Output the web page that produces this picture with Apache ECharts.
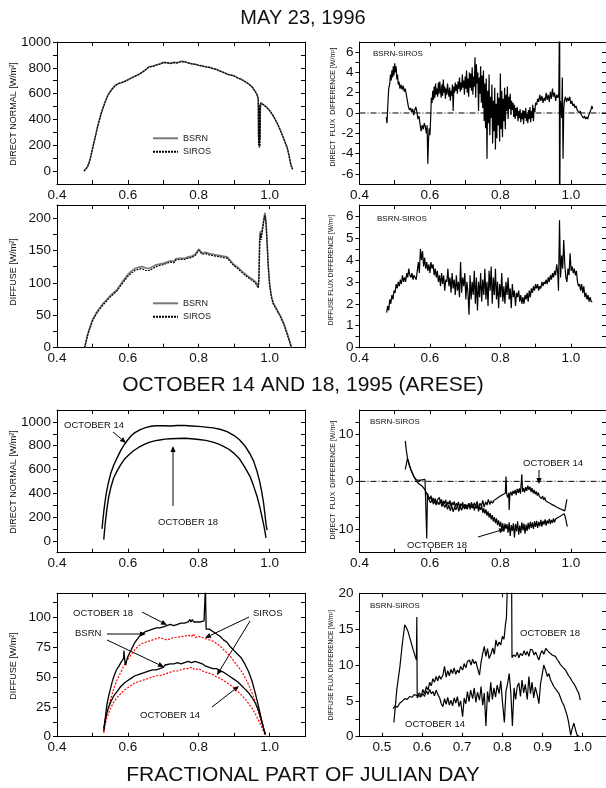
<!DOCTYPE html>
<html><head><meta charset="utf-8">
<script src="https://cdn.jsdelivr.net/npm/echarts@6/dist/echarts.min.js"></script>
<style>html,body{margin:0;padding:0;background:#fff}#c{width:606px;height:788px}</style>
</head><body><div id="c"></div>
<script>
// ---------- tick labels ----------
const xLabelsMain = [0.4, 0.6, 0.8, 1.0];
const xTicksMain = [0.4, 0.5, 0.6, 0.7, 0.8, 0.9, 1.0];
const xLabelsOctDiff = [0.5, 0.6, 0.7, 0.8, 0.9, 1.0];
const xTicksOctDiff = [0.5, 0.6, 0.7, 0.8, 0.9, 1.0];
const yLabelsDirect = [0, 200, 400, 600, 800, 1000];
const yTicksDirect = [0, 100, 200, 300, 400, 500, 600, 700, 800, 900, 1000];
const yLabelsMayDirDiff = [-6, -4, -2, 0, 2, 4, 6];
const yTicksMayDirDiff = [-6, -5, -4, -3, -2, -1, 0, 1, 2, 3, 4, 5, 6];
const yLabelsMayDiffuse = [0, 50, 100, 150, 200];
const yTicksMayDiffuse = [0, 25, 50, 75, 100, 125, 150, 175, 200];
const yLabelsMayDifDiff = [0, 1, 2, 3, 4, 5, 6];
const yTicksMayDifDiff = [0, 0.5, 1, 1.5, 2, 2.5, 3, 3.5, 4, 4.5, 5, 5.5, 6];
const yLabelsOctDirDiff = [-10, 0, 10];
const yTicksOctDirDiff = [-12.5, -10, -7.5, -5, -2.5, 0, 2.5, 5, 7.5, 10, 12.5];
const yLabelsOctDiffuse = [0, 25, 50, 75, 100];
const yTicksOctDiffuse = [0, 12.5, 25, 37.5, 50, 62.5, 75, 87.5, 100, 112.5];
const yLabelsOctDifDiff = [0, 5, 10, 15, 20];
const yTicksOctDifDiff = [0, 2.5, 5, 7.5, 10, 12.5, 15, 17.5];
const zeroLine = [[0.4, 0], [1.1, 0]];

// ---------- May 23, 1996 ----------
const mayDirectBSRN = [[0.476,0],[0.480,10],[0.485,30],[0.490,60],[0.495,110],[0.500,170],[0.505,230],[0.510,290],[0.515,350],[0.520,400],[0.525,450],[0.530,490],[0.535,530],[0.540,565],[0.545,595],[0.550,615],[0.555,635],[0.560,650],[0.565,665],[0.570,675],[0.575,680],[0.580,678],[0.585,688],[0.590,695],[0.595,700],[0.600,708],[0.610,722],[0.620,735],[0.630,748],[0.640,765],[0.650,785],[0.655,800],[0.660,808],[0.670,812],[0.680,822],[0.690,830],[0.700,842],[0.705,835],[0.710,840],[0.720,835],[0.730,842],[0.740,840],[0.750,850],[0.755,845],[0.760,848],[0.770,840],[0.780,832],[0.790,828],[0.800,820],[0.810,815],[0.820,808],[0.830,805],[0.840,795],[0.850,788],[0.860,775],[0.870,765],[0.880,752],[0.890,745],[0.900,738],[0.910,722],[0.920,712],[0.930,695],[0.940,678],[0.950,655],[0.955,640],[0.960,615],[0.965,590],[0.968,560],[0.969,260],[0.970,520],[0.971,230],[0.972,500],[0.973,250],[0.974,480],[0.975,530],[0.980,525],[0.990,500],[1.000,470],[1.010,430],[1.020,380],[1.030,320],[1.040,250],[1.050,180],[1.055,120],[1.060,50],[1.065,15]];
const mayDirectSIROS = [[0.476,0],[0.480,9],[0.485,29],[0.490,58],[0.495,108],[0.500,168],[0.505,228],[0.510,288],[0.515,348],[0.520,398],[0.525,448],[0.530,488],[0.535,528],[0.540,563],[0.545,593],[0.550,613],[0.555,634],[0.560,649],[0.565,664],[0.570,674],[0.575,679],[0.580,677],[0.585,687],[0.590,694],[0.595,699],[0.600,707],[0.610,721],[0.620,734],[0.630,747],[0.640,764],[0.650,784],[0.655,799],[0.660,807],[0.670,811],[0.680,821],[0.690,829],[0.700,840],[0.705,834],[0.710,839],[0.720,833],[0.730,840],[0.740,838],[0.750,848],[0.755,843],[0.760,846],[0.770,838],[0.780,831],[0.790,827],[0.800,819],[0.810,814],[0.820,807],[0.830,804],[0.840,794],[0.850,787],[0.860,774],[0.870,764],[0.880,751],[0.890,744],[0.900,737],[0.910,721],[0.920,711],[0.930,694],[0.940,677],[0.950,654],[0.955,639],[0.960,614],[0.965,589],[0.968,555],[0.969,200],[0.970,515],[0.971,180],[0.972,495],[0.973,190],[0.974,478],[0.975,528],[0.980,524],[0.990,499],[1.000,469],[1.010,429],[1.020,379],[1.030,319],[1.040,249],[1.050,179],[1.055,119],[1.060,49],[1.065,14]];

const mayDirectDiff = [[0.476,-0.4],[0.478,-1.0],[0.480,0.5],[0.483,2.4],[0.486,2.9],[0.488,3.8],[0.490,3.2],[0.492,4.2],[0.494,3.5],[0.496,4.6],[0.498,3.7],[0.500,4.9],[0.502,4.0],[0.504,4.6],[0.506,3.3],[0.508,3.8],[0.510,2.8],[0.512,3.1],[0.515,2.4],[0.518,2.8],[0.521,2.3],[0.524,2.7],[0.527,2.1],[0.530,2.4],[0.533,1.8],[0.536,1.2],[0.539,0.6],[0.542,0.3],[0.545,0.5],[0.548,0.1],[0.551,0.4],[0.554,-0.2],[0.557,0.3],[0.560,0.6],[0.563,0.1],[0.566,-0.6],[0.569,-0.3],[0.572,-1.1],[0.575,-1.8],[0.578,-1.2],[0.581,-1.6],[0.584,-1.0],[0.587,-1.4],[0.590,-2.0],[0.592,-1.2],[0.594,-5.0],[0.596,-2.6],[0.598,-1.5],[0.600,-2.2],[0.602,-0.6],[0.604,1.5],[0.606,1.0],[0.608,2.2],[0.610,1.3],[0.612,2.6],[0.614,1.5],[0.616,2.9],[0.618,1.8],[0.620,2.4],[0.622,1.6],[0.624,3.0],[0.626,1.9],[0.628,3.1],[0.630,2.2],[0.632,1.5],[0.634,2.8],[0.636,1.7],[0.638,3.3],[0.640,2.0],[0.642,2.6],[0.644,1.4],[0.646,2.4],[0.648,1.8],[0.650,2.9],[0.652,2.1],[0.654,1.6],[0.656,2.5],[0.658,1.2],[0.660,2.2],[0.662,1.7],[0.664,2.8],[0.666,0.2],[0.668,2.6],[0.670,2.0],[0.672,3.0],[0.674,2.2],[0.676,2.8],[0.678,1.9],[0.680,3.1],[0.682,2.4],[0.684,3.5],[0.686,2.1],[0.688,3.0],[0.690,2.3],[0.692,3.8],[0.694,2.5],[0.696,3.2],[0.698,1.8],[0.700,3.6],[0.702,2.4],[0.704,4.2],[0.706,2.0],[0.708,3.4],[0.710,1.6],[0.712,4.0],[0.714,2.5],[0.716,3.9],[0.718,2.2],[0.720,4.5],[0.722,1.8],[0.724,3.6],[0.726,2.6],[0.728,5.5],[0.730,1.5],[0.732,4.8],[0.734,2.9],[0.736,4.0],[0.738,0.2],[0.740,3.5],[0.742,1.9],[0.744,4.6],[0.746,1.0],[0.748,3.7],[0.750,0.5],[0.752,4.2],[0.754,-0.8],[0.756,2.9],[0.758,-1.5],[0.760,3.4],[0.762,-4.5],[0.764,2.2],[0.766,-1.0],[0.768,3.8],[0.770,-2.2],[0.772,1.6],[0.774,-0.5],[0.776,2.8],[0.778,-3.0],[0.780,1.2],[0.782,-1.8],[0.784,2.5],[0.786,-3.6],[0.788,0.9],[0.790,-2.5],[0.792,2.0],[0.794,-1.2],[0.796,1.5],[0.798,-2.8],[0.800,3.9],[0.802,-1.6],[0.804,2.2],[0.806,-2.4],[0.808,1.4],[0.810,-0.8],[0.812,2.5],[0.814,-1.6],[0.816,1.8],[0.818,0.2],[0.820,2.6],[0.822,-0.6],[0.824,1.6],[0.826,0.4],[0.828,1.9],[0.830,-0.2],[0.832,1.2],[0.834,0.3],[0.836,1.0],[0.838,-0.4],[0.840,0.8],[0.842,-0.6],[0.844,0.5],[0.846,-0.3],[0.848,0.6],[0.850,-0.8],[0.852,0.2],[0.854,-0.5],[0.856,0.4],[0.858,-0.9],[0.860,0.0],[0.862,-0.6],[0.864,0.3],[0.866,-1.1],[0.868,0.2],[0.870,-0.5],[0.872,0.5],[0.874,-0.8],[0.876,-0.1],[0.878,-1.0],[0.880,0.3],[0.882,-0.6],[0.884,0.6],[0.886,-0.9],[0.888,0.2],[0.890,-0.5],[0.892,0.8],[0.894,-0.8],[0.896,0.5],[0.898,0.1],[0.900,1.0],[0.903,0.8],[0.906,1.4],[0.909,1.1],[0.912,1.8],[0.915,1.2],[0.918,1.7],[0.921,1.0],[0.924,1.5],[0.927,1.2],[0.930,2.0],[0.933,1.3],[0.936,1.8],[0.939,1.1],[0.942,2.1],[0.945,1.4],[0.948,2.4],[0.951,1.6],[0.954,2.0],[0.957,1.2],[0.960,1.8],[0.963,1.5],[0.966,1.9],[0.9675,8],[0.968,-8],[0.9685,8],[0.969,-8],[0.970,1.2],[0.972,0.8],[0.974,-0.5],[0.976,3.5],[0.978,-4.5],[0.980,0.4],[0.982,1.2],[0.985,1.6],[0.988,1.1],[0.991,1.5],[0.994,1.2],[0.997,1.6],[1.000,0.9],[1.003,1.2],[1.006,0.7],[1.009,0.9],[1.012,0.5],[1.015,0.7],[1.018,0.3],[1.021,0.4],[1.024,0.0],[1.027,0.2],[1.030,-0.2],[1.033,-0.1],[1.036,-0.5],[1.039,-0.3],[1.042,-0.6],[1.045,-0.4],[1.048,-0.6],[1.051,-0.2],[1.054,-0.3],[1.057,0.3],[1.060,0.7],[1.062,0.4]];

const mayDiffuseBSRN = [[0.478,0],[0.482,10],[0.486,20],[0.490,27],[0.495,35],[0.500,43],[0.510,53],[0.520,61],[0.530,68],[0.540,74],[0.550,80],[0.560,85],[0.570,90],[0.580,98],[0.590,106],[0.600,113],[0.610,118],[0.620,122],[0.630,124],[0.640,125],[0.650,123],[0.660,122],[0.670,125],[0.680,128],[0.690,129],[0.700,130],[0.710,132],[0.720,134],[0.725,136],[0.730,133],[0.735,137],[0.740,134],[0.745,138],[0.750,135],[0.760,138],[0.770,140],[0.780,141],[0.790,144],[0.795,147],[0.800,152],[0.805,149],[0.810,146],[0.820,147],[0.830,145],[0.840,144],[0.850,143],[0.860,142],[0.870,141],[0.880,140],[0.890,134],[0.900,128],[0.910,124],[0.920,119],[0.930,114],[0.940,110],[0.950,106],[0.960,102],[0.965,100],[0.968,94],[0.970,110],[0.972,165],[0.974,180],[0.976,170],[0.978,178],[0.980,185],[0.984,200],[0.987,208],[0.990,195],[0.993,165],[0.996,130],[1.000,100],[1.005,80],[1.010,70],[1.020,60],[1.030,50],[1.040,38],[1.050,22],[1.058,8],[1.062,0]];
const mayDiffuseSIROS = [[0.478,0],[0.482,9],[0.486,18],[0.490,25],[0.495,33],[0.500,41],[0.510,51],[0.520,59],[0.530,66],[0.540,72],[0.550,78],[0.560,83],[0.570,88],[0.580,96],[0.590,103],[0.600,110],[0.610,115],[0.620,119],[0.630,121],[0.640,122],[0.650,119],[0.660,119],[0.670,122],[0.680,125],[0.690,127],[0.700,128],[0.710,130],[0.720,132],[0.725,134],[0.730,131],[0.735,135],[0.740,132],[0.745,136],[0.750,133],[0.760,136],[0.770,138],[0.780,139],[0.790,142],[0.795,145],[0.800,150],[0.805,147],[0.810,144],[0.820,145],[0.830,143],[0.840,142],[0.850,141],[0.860,140],[0.870,139],[0.880,138],[0.890,132],[0.900,126],[0.910,122],[0.920,117],[0.930,112],[0.940,108],[0.950,104],[0.960,100],[0.965,97],[0.968,92],[0.970,106],[0.972,160],[0.974,176],[0.976,166],[0.978,174],[0.980,181],[0.984,196],[0.987,204],[0.990,190],[0.993,160],[0.996,126],[1.000,97],[1.005,78],[1.010,68],[1.020,58],[1.030,48],[1.040,36],[1.050,20],[1.058,6],[1.062,0]];

const mayDiffuseDiff = [[0.477,1.6],[0.480,1.9],[0.483,1.7],[0.486,2.2],[0.489,2.0],[0.492,2.4],[0.495,2.2],[0.498,2.6],[0.501,2.5],[0.504,2.9],[0.507,2.7],[0.510,3.0],[0.513,2.8],[0.516,3.1],[0.519,2.9],[0.522,3.3],[0.525,3.0],[0.528,3.2],[0.531,3.0],[0.534,3.4],[0.537,3.2],[0.540,3.6],[0.543,3.3],[0.546,3.2],[0.549,3.4],[0.552,3.1],[0.555,3.3],[0.558,3.2],[0.561,3.1],[0.564,3.5],[0.567,3.9],[0.570,3.4],[0.573,4.5],[0.576,4.0],[0.579,4.4],[0.582,3.7],[0.585,4.1],[0.588,3.6],[0.591,3.9],[0.594,3.5],[0.597,3.8],[0.600,3.4],[0.603,3.9],[0.606,3.6],[0.609,3.8],[0.612,3.3],[0.615,3.6],[0.618,3.2],[0.621,3.5],[0.624,3.0],[0.627,3.3],[0.630,2.8],[0.633,3.4],[0.636,2.9],[0.639,3.3],[0.642,2.6],[0.645,3.1],[0.648,3.0],[0.651,3.6],[0.654,2.8],[0.657,3.2],[0.660,2.5],[0.663,3.4],[0.666,2.7],[0.669,3.1],[0.672,2.4],[0.675,3.3],[0.678,2.6],[0.681,3.0],[0.684,2.3],[0.687,3.9],[0.690,2.5],[0.693,3.2],[0.696,2.8],[0.699,3.4],[0.702,2.2],[0.705,3.0],[0.708,2.5],[0.711,1.5],[0.714,3.3],[0.717,2.2],[0.720,3.0],[0.723,2.4],[0.726,3.5],[0.729,2.0],[0.732,3.2],[0.735,1.7],[0.738,3.0],[0.741,2.3],[0.744,3.4],[0.747,2.1],[0.750,3.1],[0.753,2.4],[0.756,3.6],[0.759,2.2],[0.762,3.0],[0.765,1.9],[0.768,3.5],[0.771,2.6],[0.774,3.7],[0.777,2.0],[0.780,3.2],[0.783,2.4],[0.786,3.6],[0.789,2.2],[0.792,3.0],[0.795,1.8],[0.798,2.9],[0.801,2.3],[0.804,3.4],[0.807,2.1],[0.810,2.8],[0.813,2.0],[0.816,3.0],[0.819,2.4],[0.822,3.2],[0.825,2.2],[0.828,2.7],[0.831,1.8],[0.834,2.9],[0.837,2.3],[0.840,2.6],[0.843,1.9],[0.846,2.5],[0.849,2.3],[0.852,2.6],[0.855,2.1],[0.858,2.4],[0.861,2.0],[0.864,2.3],[0.867,2.0],[0.870,2.4],[0.873,2.2],[0.876,2.5],[0.879,2.1],[0.882,2.6],[0.885,2.3],[0.888,2.7],[0.891,2.5],[0.894,2.8],[0.897,2.6],[0.900,2.9],[0.903,2.7],[0.906,2.9],[0.909,2.6],[0.912,2.8],[0.915,2.7],[0.918,3.0],[0.921,2.8],[0.924,3.0],[0.927,2.9],[0.930,3.1],[0.933,2.9],[0.936,3.2],[0.939,3.0],[0.942,3.3],[0.945,3.1],[0.948,3.4],[0.951,3.2],[0.954,3.5],[0.957,3.3],[0.960,3.8],[0.963,3.4],[0.965,2.6],[0.968,5.8],[0.971,3.2],[0.974,4.2],[0.977,3.6],[0.980,4.9],[0.983,3.8],[0.986,3.2],[0.989,3.0],[0.992,3.6],[0.995,3.3],[0.998,4.3],[1.001,3.5],[1.004,3.7],[1.007,3.4],[1.010,3.6],[1.013,3.3],[1.016,3.5],[1.019,3.0],[1.022,2.8],[1.025,2.9],[1.028,2.6],[1.031,2.9],[1.034,2.5],[1.037,2.8],[1.040,2.3],[1.043,2.5],[1.046,2.2],[1.049,2.4],[1.052,2.1],[1.055,2.3],[1.058,2.1],[1.061,2.1]];

// ---------- October 14 and 18, 1995 ----------
const octDirect14 = [[0.527,100],[0.530,190],[0.533,270],[0.537,360],[0.541,430],[0.546,500],[0.552,570],[0.560,635],[0.570,700],[0.580,760],[0.590,810],[0.600,850],[0.610,885],[0.620,910],[0.635,935],[0.650,952],[0.665,963],[0.680,968],[0.700,968],[0.720,966],[0.740,970],[0.760,970],[0.780,966],[0.800,962],[0.820,956],[0.840,950],[0.860,938],[0.880,918],[0.900,885],[0.915,850],[0.930,800],[0.945,730],[0.955,670],[0.965,580],[0.972,500],[0.978,410],[0.983,320],[0.987,220],[0.990,140],[0.993,90]];
const octDirect18 = [[0.532,10],[0.534,80],[0.537,170],[0.541,270],[0.546,370],[0.552,450],[0.560,530],[0.570,590],[0.580,640],[0.590,685],[0.600,715],[0.615,755],[0.630,785],[0.645,808],[0.660,828],[0.675,840],[0.690,848],[0.705,855],[0.720,858],[0.740,860],[0.760,862],[0.780,858],[0.800,852],[0.820,845],[0.840,830],[0.855,815],[0.870,795],[0.885,770],[0.900,735],[0.915,690],[0.930,620],[0.945,540],[0.955,460],[0.965,370],[0.972,290],[0.978,210],[0.983,140],[0.987,80],[0.989,40],[0.990,25]];

const octDirectDiff18 = [[0.530,8.5],[0.533,6.5],[0.536,5.0],[0.539,4.0],[0.542,3.2],[0.546,2.4],[0.550,1.7],[0.554,1.0],[0.558,0.6],[0.562,0.3],[0.566,0.0],[0.570,0.2],[0.574,-0.2],[0.578,0.3],[0.582,0.1],[0.586,0.4],[0.589,0.3],[0.591,-12.0],[0.593,-2.5],[0.596,-3.2],[0.600,-3.8],[0.603,-3.0],[0.606,-4.2],[0.609,-3.5],[0.612,-4.5],[0.615,-3.6],[0.618,-4.8],[0.621,-3.9],[0.624,-4.3],[0.627,-3.4],[0.630,-4.6],[0.633,-3.8],[0.636,-5.0],[0.639,-4.1],[0.642,-4.7],[0.645,-3.9],[0.648,-5.2],[0.651,-4.3],[0.654,-4.9],[0.657,-4.0],[0.660,-5.3],[0.663,-4.4],[0.666,-5.0],[0.669,-4.2],[0.672,-5.4],[0.675,-4.6],[0.678,-5.1],[0.681,-4.3],[0.684,-5.6],[0.687,-4.7],[0.690,-5.2],[0.693,-4.4],[0.696,-5.5],[0.699,-4.8],[0.702,-5.8],[0.705,-4.9],[0.708,-5.4],[0.711,-4.6],[0.714,-5.9],[0.717,-5.0],[0.720,-5.6],[0.723,-4.8],[0.726,-6.1],[0.729,-5.2],[0.732,-5.7],[0.735,-4.9],[0.738,-6.3],[0.741,-5.4],[0.744,-6.0],[0.747,-5.1],[0.750,-6.6],[0.753,-5.7],[0.756,-6.8],[0.759,-5.9],[0.762,-7.2],[0.765,-6.3],[0.768,-7.6],[0.771,-6.7],[0.774,-8.0],[0.777,-7.1],[0.780,-8.4],[0.783,-7.5],[0.786,-8.8],[0.789,-7.8],[0.792,-9.2],[0.795,-8.2],[0.798,-9.5],[0.801,-8.5],[0.804,-10.2],[0.807,-8.8],[0.810,-10.6],[0.813,-8.9],[0.816,-10.0],[0.819,-9.0],[0.822,-10.8],[0.825,-8.6],[0.828,-11.5],[0.831,-9.2],[0.834,-10.4],[0.837,-8.8],[0.840,-11.8],[0.843,-9.0],[0.846,-10.5],[0.849,-8.4],[0.852,-11.2],[0.855,-9.3],[0.858,-10.9],[0.861,-8.6],[0.864,-10.3],[0.867,-8.9],[0.870,-11.0],[0.873,-9.1],[0.876,-10.4],[0.879,-8.7],[0.882,-10.1],[0.885,-8.5],[0.888,-9.8],[0.891,-8.6],[0.894,-10.0],[0.897,-8.4],[0.900,-9.6],[0.903,-8.3],[0.906,-9.8],[0.909,-8.5],[0.912,-9.4],[0.915,-8.1],[0.918,-9.5],[0.921,-8.3],[0.924,-9.1],[0.927,-8.0],[0.930,-9.3],[0.933,-8.2],[0.936,-8.9],[0.939,-7.9],[0.942,-9.0],[0.945,-8.1],[0.948,-8.7],[0.951,-7.8],[0.954,-8.6],[0.957,-7.9],[0.960,-8.3],[0.963,-7.6],[0.966,-8.0],[0.969,-7.4],[0.972,-7.8],[0.975,-7.1],[0.978,-7.3],[0.981,-6.8],[0.984,-7.4],[0.987,-8.4],[0.990,-9.5]];
const octDirectDiff14 = [[0.530,2.5],[0.533,3.6],[0.536,4.8],[0.539,4.2],[0.542,3.4],[0.546,2.5],[0.550,1.8],[0.554,1.1],[0.558,0.5],[0.562,0.0],[0.566,-0.3],[0.570,-0.6],[0.574,-0.8],[0.578,-1.0],[0.582,-1.4],[0.586,-1.8],[0.590,-2.4],[0.594,-3.2],[0.598,-4.0],[0.602,-4.5],[0.606,-3.9],[0.610,-4.8],[0.614,-4.1],[0.618,-5.0],[0.622,-4.3],[0.626,-4.9],[0.630,-4.0],[0.634,-5.3],[0.638,-4.6],[0.642,-5.5],[0.646,-4.8],[0.650,-5.9],[0.654,-5.0],[0.658,-6.2],[0.662,-5.1],[0.666,-6.4],[0.670,-5.4],[0.674,-6.0],[0.678,-5.0],[0.682,-6.3],[0.686,-5.2],[0.690,-6.1],[0.694,-5.0],[0.698,-5.8],[0.702,-4.9],[0.706,-5.9],[0.710,-4.6],[0.714,-5.5],[0.718,-4.4],[0.722,-5.6],[0.726,-4.5],[0.730,-5.3],[0.734,-4.2],[0.738,-5.8],[0.742,-4.6],[0.746,-5.2],[0.750,-4.0],[0.754,-5.4],[0.758,-4.3],[0.762,-5.0],[0.766,-3.8],[0.770,-4.9],[0.774,-4.1],[0.778,-4.6],[0.782,-4.0],[0.786,-4.4],[0.790,-3.6],[0.794,-4.0],[0.798,-3.2],[0.802,-3.5],[0.806,-2.8],[0.810,-3.2],[0.814,-2.5],[0.816,1.0],[0.818,-2.7],[0.821,-3.4],[0.824,-2.4],[0.825,-6.0],[0.827,-2.8],[0.830,-2.2],[0.833,-3.0],[0.836,-2.0],[0.839,-2.6],[0.842,-1.8],[0.845,-2.9],[0.848,-1.6],[0.851,-2.4],[0.854,-1.5],[0.857,-2.6],[0.861,1.5],[0.863,-2.2],[0.866,-1.4],[0.869,-2.3],[0.872,-1.2],[0.875,-2.0],[0.878,-0.9],[0.881,-1.8],[0.884,-1.1],[0.887,-2.2],[0.890,-1.4],[0.893,-2.5],[0.896,-1.8],[0.899,-2.7],[0.902,-2.1],[0.905,-3.0],[0.908,-2.4],[0.911,-3.2],[0.914,-2.8],[0.917,-3.6],[0.920,-3.1],[0.923,-3.9],[0.926,-3.4],[0.929,-4.1],[0.932,-3.7],[0.935,-4.4],[0.938,-4.0],[0.941,-4.6],[0.944,-4.3],[0.947,-4.9],[0.950,-4.5],[0.953,-5.1],[0.956,-4.8],[0.959,-5.4],[0.962,-5.0],[0.965,-5.6],[0.968,-5.3],[0.971,-5.8],[0.974,-5.5],[0.977,-6.0],[0.980,-5.6],[0.983,-6.2],[0.986,-5.0],[0.989,-3.8]];

const octDiffuse18BSRN = [[0.532,5],[0.535,12],[0.538,20],[0.541,27],[0.545,33],[0.550,39],[0.555,45],[0.560,50],[0.565,54],[0.570,57],[0.575,59],[0.580,62],[0.585,64],[0.588,66],[0.589,72],[0.590,68],[0.592,62],[0.594,60],[0.597,64],[0.600,67],[0.605,70],[0.610,73],[0.615,76],[0.620,79],[0.625,81],[0.630,83],[0.635,85],[0.640,86],[0.650,88],[0.660,89],[0.670,90],[0.680,91],[0.690,91],[0.700,92],[0.705,91],[0.710,93],[0.715,92],[0.720,94],[0.730,93],[0.740,94],[0.750,95],[0.760,95],[0.770,96],[0.775,98],[0.778,96],[0.782,98],[0.786,96],[0.790,97],[0.795,96],[0.800,97],[0.805,96],[0.810,97],[0.815,97],[0.818,98],[0.819,125],[0.821,90],[0.830,90],[0.840,88],[0.850,86],[0.860,84],[0.870,81],[0.880,79],[0.890,75],[0.900,72],[0.910,69],[0.920,66],[0.930,61],[0.940,55],[0.950,47],[0.960,36],[0.970,24],[0.978,13],[0.984,6],[0.988,2]];
const octDiffuse18SIROS = [[0.532,4],[0.536,12],[0.540,19],[0.545,25],[0.550,30],[0.555,35],[0.560,40],[0.565,44],[0.570,48],[0.575,51],[0.580,54],[0.585,57],[0.590,60],[0.595,63],[0.600,65],[0.605,67],[0.610,69],[0.615,71],[0.620,73],[0.625,74],[0.630,76],[0.640,78],[0.650,79],[0.660,80],[0.670,81],[0.680,82],[0.690,83],[0.700,82],[0.710,81],[0.720,82],[0.730,83],[0.740,83],[0.750,84],[0.760,84],[0.770,85],[0.775,86],[0.780,84],[0.785,86],[0.790,83],[0.800,84],[0.810,83],[0.820,82],[0.830,81],[0.840,80],[0.850,78],[0.860,76],[0.870,73],[0.880,70],[0.890,67],[0.900,63],[0.910,59],[0.920,55],[0.930,50],[0.940,44],[0.950,37],[0.960,29],[0.970,19],[0.978,11],[0.985,4],[0.990,1]];
const octDiffuse14BSRN = [[0.532,7],[0.536,14],[0.540,19],[0.545,24],[0.550,28],[0.555,31],[0.560,34],[0.565,36],[0.570,38],[0.575,40],[0.580,42],[0.590,45],[0.600,47],[0.610,49],[0.620,51],[0.630,52],[0.640,53],[0.650,54],[0.660,55],[0.670,56],[0.680,56],[0.690,57],[0.700,58],[0.705,60],[0.710,59],[0.720,61],[0.730,61],[0.740,62],[0.750,61],[0.760,62],[0.770,63],[0.780,62],[0.790,63],[0.800,62],[0.805,63],[0.810,61],[0.815,62],[0.820,59],[0.830,58],[0.840,57],[0.850,57],[0.860,55],[0.870,54],[0.880,52],[0.890,50],[0.900,48],[0.910,46],[0.920,43],[0.930,40],[0.940,37],[0.950,33],[0.960,28],[0.970,21],[0.978,13],[0.984,6],[0.988,2]];
const octDiffuse14SIROS = [[0.532,3],[0.536,10],[0.540,15],[0.545,19],[0.550,23],[0.555,26],[0.560,29],[0.565,31],[0.570,33],[0.580,36],[0.590,39],[0.600,41],[0.610,43],[0.620,45],[0.630,46],[0.640,47],[0.650,48],[0.660,49],[0.670,50],[0.680,51],[0.690,51],[0.700,52],[0.710,53],[0.720,54],[0.730,55],[0.740,55],[0.750,56],[0.760,57],[0.770,57],[0.780,58],[0.790,56],[0.800,57],[0.810,55],[0.820,54],[0.830,53],[0.840,52],[0.850,50],[0.860,49],[0.870,47],[0.880,45],[0.890,43],[0.900,41],[0.910,38],[0.920,35],[0.930,32],[0.940,28],[0.950,24],[0.960,19],[0.970,13],[0.978,8],[0.985,3],[0.990,0]];

const octDiffuseDiff18 = [[0.528,3.9],[0.533,4.3],[0.538,4.1],[0.545,4.7],[0.550,4.9],[0.557,5.3],[0.563,5.2],[0.569,5.6],[0.575,5.5],[0.581,5.9],[0.587,5.7],[0.594,6.1],[0.598,5.6],[0.602,6.6],[0.606,6.0],[0.611,7.0],[0.615,6.5],[0.619,7.6],[0.623,7.1],[0.627,8.1],[0.631,7.6],[0.635,8.4],[0.639,7.8],[0.643,8.5],[0.647,8.0],[0.652,8.6],[0.656,9.8],[0.660,8.3],[0.664,9.2],[0.668,8.5],[0.672,9.4],[0.676,8.8],[0.680,9.6],[0.684,8.7],[0.688,9.3],[0.692,8.9],[0.696,9.8],[0.701,9.3],[0.705,10.2],[0.709,9.6],[0.713,10.5],[0.718,10.7],[0.722,10.0],[0.726,10.8],[0.730,10.2],[0.734,10.5],[0.738,9.6],[0.743,8.6],[0.747,10.4],[0.751,11.6],[0.755,12.6],[0.759,11.2],[0.763,12.3],[0.767,10.9],[0.772,11.6],[0.776,12.4],[0.780,11.5],[0.784,13.5],[0.788,12.6],[0.792,13.2],[0.796,12.8],[0.800,14.0],[0.804,13.6],[0.808,15.8],[0.810,16.5],[0.813,22],[0.818,22],[0.823,22],[0.824,11.0],[0.828,11.4],[0.833,11.2],[0.837,11.8],[0.841,11.0],[0.845,11.6],[0.850,11.3],[0.854,12.0],[0.858,11.4],[0.862,11.9],[0.866,11.2],[0.870,12.2],[0.875,12.1],[0.879,11.4],[0.883,11.8],[0.887,11.2],[0.891,10.7],[0.895,11.6],[0.899,12.0],[0.903,11.5],[0.908,12.3],[0.912,12.3],[0.916,11.8],[0.920,12.0],[0.924,11.4],[0.928,11.6],[0.932,11.2],[0.936,10.8],[0.940,10.5],[0.944,10.1],[0.948,10.0],[0.952,9.6],[0.957,9.3],[0.961,8.9],[0.965,8.5],[0.969,8.2],[0.974,7.7],[0.978,7.4],[0.982,7.0],[0.986,6.5],[0.990,6.1],[0.994,5.1]];
const octDiffuseDiff14 = [[0.530,2.0],[0.537,6.5],[0.545,9.8],[0.551,13.0],[0.557,15.6],[0.561,15.2],[0.565,14.7],[0.571,13.5],[0.578,12.1],[0.583,11.2],[0.586,10.7],[0.587,16.7],[0.588,5.4],[0.592,5.8],[0.596,5.5],[0.602,6.0],[0.606,5.6],[0.611,6.4],[0.615,5.9],[0.619,6.6],[0.623,6.0],[0.627,6.3],[0.631,5.7],[0.635,6.5],[0.640,5.8],[0.644,5.4],[0.648,4.6],[0.652,4.2],[0.656,5.3],[0.660,4.5],[0.664,5.5],[0.668,4.4],[0.672,5.1],[0.676,4.3],[0.680,5.4],[0.684,4.7],[0.688,5.6],[0.692,4.2],[0.696,5.0],[0.701,2.8],[0.705,5.4],[0.709,4.6],[0.713,6.3],[0.717,4.9],[0.721,6.5],[0.726,5.3],[0.730,6.8],[0.734,4.8],[0.738,6.2],[0.743,5.1],[0.747,7.0],[0.751,4.4],[0.755,6.1],[0.759,1.5],[0.763,6.3],[0.767,4.8],[0.771,7.6],[0.775,5.2],[0.779,6.8],[0.783,5.5],[0.787,7.2],[0.792,6.0],[0.796,7.8],[0.800,5.0],[0.805,2.0],[0.809,6.4],[0.813,7.4],[0.817,8.8],[0.821,6.2],[0.825,1.5],[0.829,6.8],[0.833,5.2],[0.837,7.0],[0.841,7.5],[0.845,5.6],[0.849,7.9],[0.853,6.1],[0.857,7.3],[0.862,5.2],[0.866,8.4],[0.870,6.0],[0.874,7.6],[0.878,5.4],[0.882,6.9],[0.887,5.8],[0.891,4.6],[0.895,7.4],[0.899,8.6],[0.903,10.0],[0.908,9.2],[0.912,8.4],[0.916,8.8],[0.920,7.9],[0.924,7.5],[0.928,7.0],[0.932,6.8],[0.936,6.4],[0.941,6.0],[0.945,5.4],[0.949,4.8],[0.953,4.4],[0.957,3.7],[0.961,3.0],[0.965,2.0],[0.970,0.2],[0.974,1.2],[0.978,1.9],[0.982,1.0],[0.986,0.2],[0.990,0.1],[0.994,0]];

// ---------- chart ----------
const FONT = '"Liberation Sans", Arial, Helvetica, sans-serif';
const chart = echarts.init(document.getElementById('c'), null, {renderer: 'canvas'});

const panels = [
  {grid: {left: 57, top: 42, width: 248, height: 142}, x: [0.4, 1.1, xLabelsMain, xTicksMain], y: [-100, 1000, yLabelsDirect, yTicksDirect]},
  {grid: {left: 359.5, top: 42, width: 248, height: 142}, x: [0.4, 1.1, xLabelsMain, xTicksMain], y: [-7, 7, yLabelsMayDirDiff, yTicksMayDirDiff]},
  {grid: {left: 57, top: 205, width: 248, height: 142.7}, x: [0.4, 1.1, xLabelsMain, xTicksMain], y: [0, 220, yLabelsMayDiffuse, yTicksMayDiffuse]},
  {grid: {left: 359.5, top: 205, width: 248, height: 142.7}, x: [0.4, 1.1, xLabelsMain, xTicksMain], y: [0, 6.5, yLabelsMayDifDiff, yTicksMayDifDiff]},
  {grid: {left: 57, top: 410, width: 248, height: 142.7}, x: [0.4, 1.1, xLabelsMain, xTicksMain], y: [-100, 1100, yLabelsDirect, yTicksDirect]},
  {grid: {left: 359.5, top: 410, width: 248, height: 142.7}, x: [0.4, 1.1, xLabelsMain, xTicksMain], y: [-15, 15, yLabelsOctDirDiff, yTicksOctDirDiff]},
  {grid: {left: 57, top: 593.3, width: 248, height: 143.4}, x: [0.4, 1.1, xLabelsMain, xTicksMain], y: [0, 120, yLabelsOctDiffuse, yTicksOctDiffuse]},
  {grid: {left: 359.5, top: 593.3, width: 248, height: 143.4}, x: [0.4443, 1.058, xLabelsOctDiff, xTicksOctDiff], y: [0, 20, yLabelsOctDifDiff, yTicksOctDifDiff]}
];

const axisLineStyle = {color: '#000', width: 1};
const option = {animation: false, backgroundColor: '#fff', grid: [], xAxis: [], yAxis: [], series: [], legend: [], graphic: []};

panels.forEach((p, i) => {
  option.grid.push(Object.assign({containLabel: false}, p.grid));
  const xb = {type: 'value', gridIndex: i, min: p.x[0], max: p.x[1], splitLine: {show: false},
    axisLine: {onZero: false, lineStyle: axisLineStyle}};
  option.xAxis.push(Object.assign({}, xb, {position: 'bottom',
    axisTick: {inside: true, length: 4, customValues: p.x[3], lineStyle: axisLineStyle},
    axisLabel: {customValues: p.x[2], formatter: v => Number(v).toFixed(1), fontFamily: FONT, fontSize: 13.5, color: '#111', margin: 4}}));
  option.xAxis.push(Object.assign({}, xb, {position: 'top',
    axisTick: {inside: true, length: 4, customValues: p.x[3], lineStyle: axisLineStyle},
    axisLabel: {show: false}}));
  const yb = {type: 'value', gridIndex: i, min: p.y[0], max: p.y[1], splitLine: {show: false},
    axisLine: {onZero: false, lineStyle: axisLineStyle}};
  option.yAxis.push(Object.assign({}, yb, {position: 'left',
    axisTick: {inside: false, length: 4, customValues: p.y[3], lineStyle: axisLineStyle},
    axisLabel: {customValues: p.y[2], formatter: v => String(v), fontFamily: FONT, fontSize: 13.5, color: '#111', margin: 6}}));
  option.yAxis.push(Object.assign({}, yb, {position: 'right',
    axisTick: {inside: true, length: 4, customValues: p.y[3], lineStyle: axisLineStyle},
    axisLabel: {show: false}}));
});

function addLine(panel, name, data, color, width, type, z) {
  option.series.push({type: 'line', name: name, xAxisIndex: 2 * panel, yAxisIndex: 2 * panel, data: data,
    symbol: 'none', silent: true, clip: true, color: color, z: z || 2,
    lineStyle: {color: color, width: width, type: type || 'solid'}});
}
addLine(0, 'BSRN', mayDirectBSRN, '#777', 1.6, 'solid', 2);
addLine(0, 'SIROS', mayDirectSIROS, '#000', 1.2, [2, 1], 3);
addLine(1, 'zero1', zeroLine, '#000', 1, [6, 2, 1, 2], 1);
addLine(1, 'May direct diff', mayDirectDiff, '#000', 1.2);
addLine(2, 'BSRN', mayDiffuseBSRN, '#777', 1.6, 'solid', 2);
addLine(2, 'SIROS', mayDiffuseSIROS, '#000', 1.2, [2, 1], 3);
addLine(3, 'May diffuse diff', mayDiffuseDiff, '#000', 1.2);
addLine(4, 'Oct 14 direct', octDirect14, '#000', 1.4);
addLine(4, 'Oct 18 direct', octDirect18, '#000', 1.4);
addLine(5, 'zero2', zeroLine, '#000', 1, [6, 2, 1, 2], 1);
addLine(5, 'Oct 18 direct diff', octDirectDiff18, '#000', 1.2);
addLine(5, 'Oct 14 direct diff', octDirectDiff14, '#000', 1.2);
addLine(6, 'Oct 18 diffuse SIROS', octDiffuse18SIROS, '#f00', 1.2, [2, 1.5]);
addLine(6, 'Oct 14 diffuse SIROS', octDiffuse14SIROS, '#f00', 1.2, [2, 1.5]);
addLine(6, 'Oct 18 diffuse BSRN', octDiffuse18BSRN, '#000', 1.3);
addLine(6, 'Oct 14 diffuse BSRN', octDiffuse14BSRN, '#000', 1.3);
addLine(7, 'Oct 18 diffuse diff', octDiffuseDiff18, '#000', 1.2);
addLine(7, 'Oct 14 diffuse diff', octDiffuseDiff14, '#000', 1.2);

const legendBase = {data: ['BSRN', 'SIROS'], orient: 'vertical', left: 152, itemWidth: 25, itemHeight: 10,
  itemGap: 3.4, selectedMode: false, padding: 0,
  itemStyle: {opacity: 0, borderWidth: 0},
  textStyle: {fontFamily: FONT, fontSize: 9, color: '#222', lineHeight: 10}};
option.legend.push(Object.assign({}, legendBase, {top: 133.3}));
option.legend.push(Object.assign({}, legendBase, {top: 298.3}));

const G = option.graphic;
function txt(text, x, y, size, extra) {
  G.push({type: 'text', x: x, y: y, silent: true,
    style: Object.assign({text: text, fontFamily: FONT, fontSize: size, fill: '#111', align: 'left', verticalAlign: 'middle'}, extra || {})});
}
function vtxt(text, x, y, size) {
  G.push({type: 'text', x: x, y: y, rotation: Math.PI / 2, silent: true,
    style: {text: text, fontFamily: FONT, fontSize: size, fill: '#111', align: 'center', verticalAlign: 'middle'}});
}
function arrow(x1, y1, x2, y2) {
  const a = Math.atan2(y2 - y1, x2 - x1), L = 6, W = 2.6;
  const bx = x2 - L * Math.cos(a), by = y2 - L * Math.sin(a);
  G.push({type: 'line', silent: true, shape: {x1: x1, y1: y1, x2: bx, y2: by}, style: {stroke: '#000', lineWidth: 1}});
  G.push({type: 'polygon', silent: true, shape: {points: [[x2, y2], [bx - W * Math.sin(a), by + W * Math.cos(a)], [bx + W * Math.sin(a), by - W * Math.cos(a)]]}, style: {fill: '#000'}});
}

// titles
txt('MAY 23, 1996', 303, 18, 20, {align: 'center'});
txt('OCTOBER 14 AND 18, 1995 (ARESE)', 303, 385, 21, {align: 'center'});
txt('FRACTIONAL PART OF JULIAN DAY', 303, 775, 21, {align: 'center'});

// axis names
vtxt('DIRECT NORMAL [W/m\u00b2]', 13.5, 114, 9);
vtxt('DIRECT  FLUX  DIFFERENCE [W/m\u00b2]', 333, 107, 7);
vtxt('DIFFUSE [W/m\u00b2]', 13.5, 272, 9);
vtxt('DIFFUSE FLUX DIFFERENCE [W/m\u00b2]', 331.5, 270, 6.5);
vtxt('DIRECT NORMAL [W/m\u00b2]', 13.5, 482, 9);
vtxt('DIRECT  FLUX  DIFFERENCE [W/m\u00b2]', 333, 480, 7);
vtxt('DIFFUSE [W/m\u00b2]', 13.5, 666, 9);
vtxt('DIFFUSE FLUX DIFFERENCE [W/m\u00b2]', 331.5, 665, 6.5);

// annotations
txt('BSRN-SIROS', 373, 54, 8);
txt('BSRN-SIROS', 377, 219, 8);
txt('BSRN-SIROS', 370, 422, 8);
txt('BSRN-SIROS', 370, 606, 8);
txt('OCTOBER 14', 64, 425, 9.5);
arrow(113, 432, 126, 443);
txt('OCTOBER 18', 158, 522, 9.5);
arrow(173, 506, 173, 446);
txt('OCTOBER 14', 523, 463, 9.5);
arrow(539, 470, 539, 484);
txt('OCTOBER 18', 407, 545, 9.5);
arrow(478, 537, 505, 529);
txt('OCTOBER 18', 73, 613, 9.5);
arrow(142, 612, 167, 625);
txt('SIROS', 253, 613, 9.5);
arrow(249, 617, 205, 638);
arrow(250, 621, 217, 675);
txt('BSRN', 75, 633, 9.5);
arrow(107, 634, 146, 634);
arrow(107, 640, 164, 667);
txt('OCTOBER 14', 140, 715, 9.5);
arrow(212, 707, 239, 686);
txt('OCTOBER 18', 520, 633, 9.5);
txt('OCTOBER 14', 405, 724, 9.5);

chart.setOption(option);
</script>
</body></html>
